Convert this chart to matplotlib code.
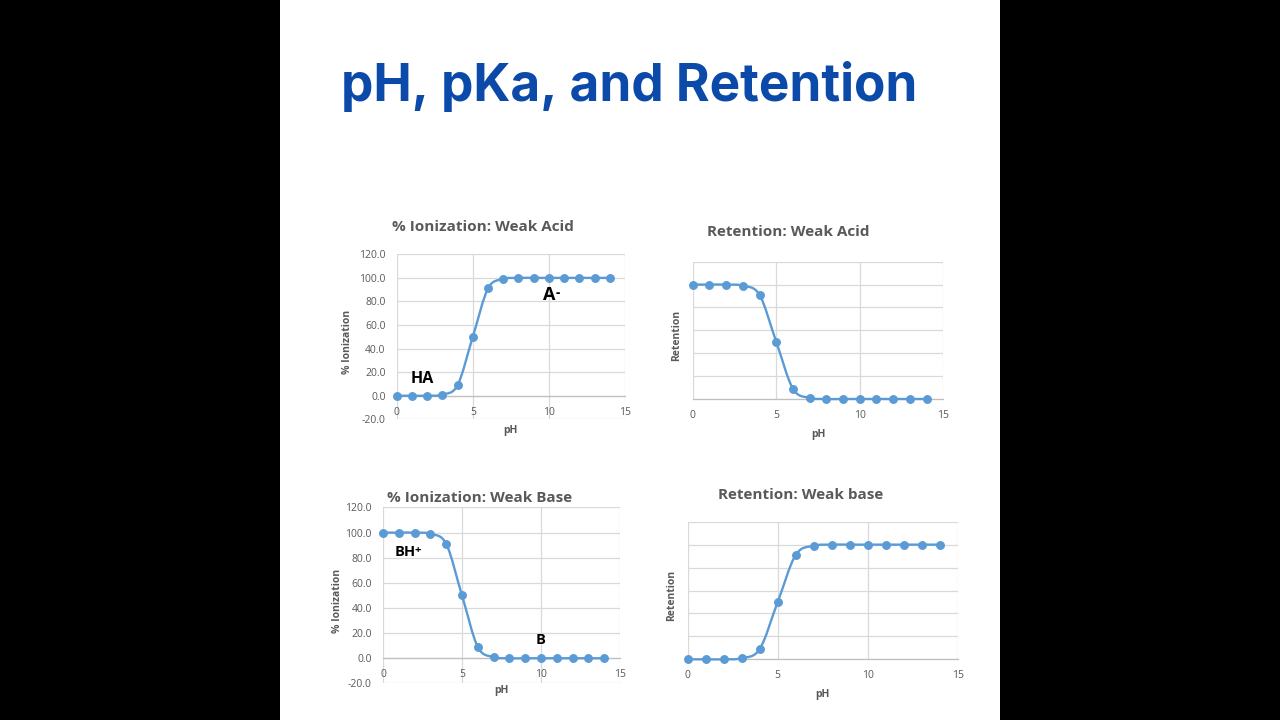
import numpy as np
import matplotlib
matplotlib.use("Agg")
import matplotlib.pyplot as plt
from matplotlib.path import Path
from matplotlib.patches import PathPatch, Rectangle

# ---------------- data ----------------
ph = [0, 1, 2, 3, 4, 5, 6, 7, 8, 9, 10, 11, 12, 13, 14]
ion_acid = [0, 0, 0, 1, 9, 50, 91, 99, 100, 100, 100, 100, 100, 100, 100]
ret_acid = [100, 100, 100, 99, 91, 50, 9, 1, 0, 0, 0, 0, 0, 0, 0]
ion_base = [100, 100, 100, 99, 91, 50, 9, 1, 0, 0, 0, 0, 0, 0, 0]
ret_base = [0, 0, 0, 1, 9, 50, 91, 99, 100, 100, 100, 100, 100, 100, 100]

x_ticks = [0, 5, 10, 15]
ion_yticks = [-20, 0, 20, 40, 60, 80, 100, 120]
ret_yticks = [0, 20, 40, 60, 80, 100, 120]

titles = ["% Ionization: Weak Acid", "Retention: Weak Acid",
          "% Ionization: Weak Base", "Retention: Weak base"]
main_title = "pH, pKa, and Retention"

BLUE = "#5b9bd5"
GRID = "#d9d9d9"
TXT = "#595959"
FONT = "Open Sans"

W, H = 1280, 720
fig = plt.figure(figsize=(12.8, 7.2), dpi=100, facecolor="black")
fig.patches.append(Rectangle((280 / W, 0), 720 / W, 1, transform=fig.transFigure,
                             facecolor="white", edgecolor="none", zorder=-10))

fig.text(629 / W, 1 - 86 / H, main_title, ha="center", va="center",
         fontsize=37, fontweight="bold", color="#0b4aa9", family="Inter")


def axes_px(x0, x1, y0, y1):
    return fig.add_axes([x0 / W, 1 - y1 / H, (x1 - x0) / W, (y1 - y0) / H])


def smooth_path(xs, ys):
    xs = np.asarray(xs, float)
    ys = np.asarray(ys, float)
    n = len(xs)
    verts = [(xs[0], ys[0])]
    codes = [Path.MOVETO]
    for i in range(n - 1):
        p0 = np.array([xs[max(i - 1, 0)], ys[max(i - 1, 0)]])
        p1 = np.array([xs[i], ys[i]])
        p2 = np.array([xs[i + 1], ys[i + 1]])
        p3 = np.array([xs[min(i + 2, n - 1)], ys[min(i + 2, n - 1)]])
        c1 = p1 + (p2 - p0) / 6.0
        c2 = p2 - (p3 - p1) / 6.0
        verts += [tuple(c1), tuple(c2), tuple(p2)]
        codes += [Path.CURVE4] * 3
    return Path(verts, codes)


def style(ax, yvals, yticks, show_ylabels, ylabel, title, title_xy, ylab_x, xlab_y, box):
    x0, x1, y0, y1 = box
    ax.set_xlim(0, 15)
    ax.set_ylim(yticks[0], yticks[-1])
    ax.set_xticks(x_ticks)
    ax.set_yticks(yticks)
    ax.grid(True, color=GRID, lw=0.9)
    ax.set_axisbelow(True)
    for s in ["top", "right", "left"]:
        ax.spines[s].set_visible(False)
    ax.spines["bottom"].set_position(("data", 0))
    ax.spines["bottom"].set_color("#bfbfbf")
    ax.spines["bottom"].set_linewidth(0.9)
    ax.tick_params(length=0, colors=TXT, labelsize=7.5)
    ax.tick_params(axis="x", pad=8)
    ax.tick_params(axis="y", pad=8)
    for lab in ax.get_xticklabels() + ax.get_yticklabels():
        lab.set_family(FONT)
    if show_ylabels:
        ax.set_yticklabels([f"{v:.1f}" for v in yticks])
    else:
        ax.set_yticklabels([])
    ax.add_patch(PathPatch(smooth_path(ph, yvals), facecolor="none",
                           edgecolor=BLUE, lw=1.7, clip_on=False, zorder=3))
    ax.plot(ph, yvals, "o", color=BLUE, ms=5.4, clip_on=False, zorder=4)
    fig.text(title_xy[0] / W, 1 - title_xy[1] / H, title, ha="center", va="center",
             fontsize=11, fontweight="bold", color=TXT, family=FONT)
    fig.text(ylab_x / W, 1 - ((y0 + y1) / 2 + 5) / H, ylabel, rotation=90,
             ha="center", va="center", fontsize=7.5, fontweight="bold",
             color=TXT, family=FONT)
    fig.text((x0 + x1) / 2 / W, 1 - xlab_y / H, "pH", ha="center", va="center",
             fontsize=7.5, fontweight="bold", color=TXT, family=FONT)


def label(ax, x, y, base, sup, size, dx=0.0):
    t = ax.text(x, y, base, ha="center", va="center", fontsize=size,
                fontweight="bold", color="black", family=FONT)
    if sup:
        fig.canvas.draw()
        bb = t.get_window_extent()
        inv = ax.transData.inverted()
        xr, yt = inv.transform((bb.x1, bb.y1))
        ax.annotate(sup, xy=(xr, yt), xytext=(dx, -0.6 * size), textcoords="offset points",
                    ha="left", va="baseline", fontsize=size * 0.75,
                    fontweight="bold", color="black", family=FONT)


box1 = (396.7, 625, 254.3, 419.3)
ax1 = axes_px(*box1)
style(ax1, ion_acid, ion_yticks, True, "% Ionization", titles[0], (483, 227), 347, 430, box1)

box2 = (692.7, 943.3, 261.7, 399)
ax2 = axes_px(*box2)
style(ax2, ret_acid, ret_yticks, False, "Retention", titles[1], (788, 232), 677, 435, box2)

box3 = (383, 620, 507.5, 683.4)
ax3 = axes_px(*box3)
style(ax3, ion_base, ion_yticks, True, "% Ionization", titles[2], (480, 498), 338, 690, box3)

box4 = (687.7, 957.7, 521.7, 659.3)
ax4 = axes_px(*box4)
style(ax4, ret_base, ret_yticks, False, "Retention", titles[3], (801, 495), 672, 695, box4)

label(ax1, 1.65, 14, "HA", None, 11.5)
label(ax1, 10.0, 85.5, "A", "-", 13, dx=0.5)
label(ax3, 1.4, 84.8, "BH", "+", 10.5, dx=-1.2)
label(ax3, 10.0, 14.5, "B", None, 10.5)

fig.savefig("out.png", dpi=100, facecolor=fig.get_facecolor())
